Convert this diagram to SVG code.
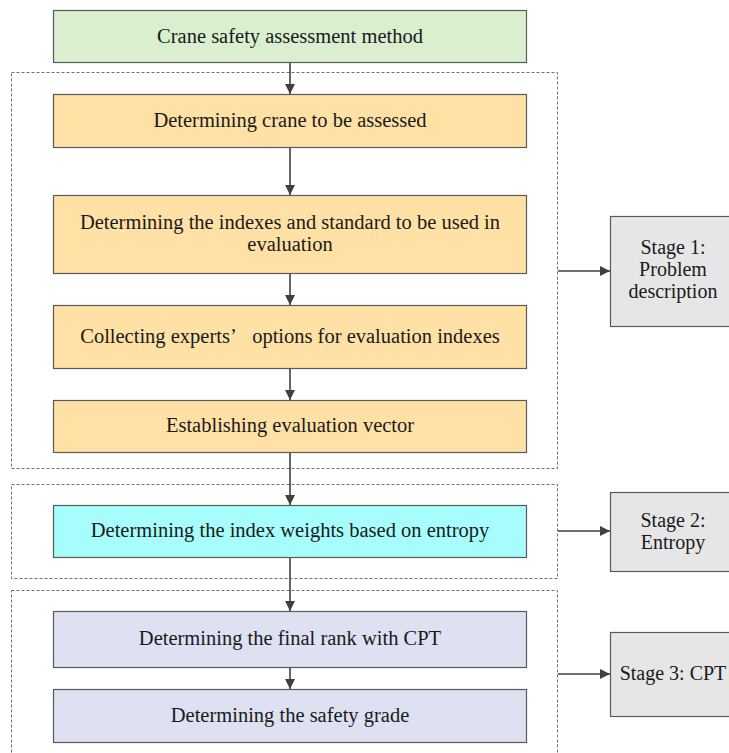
<svg xmlns="http://www.w3.org/2000/svg" width="729" height="753" viewBox="0 0 729 753">
<style>
.box{stroke:#5a5a5a;stroke-width:1.2}
.dash{fill:none;stroke:#707070;stroke-width:1;stroke-dasharray:3,2}
.t{font-family:"Liberation Serif","Times New Roman",serif;font-size:20.5px;fill:#1a1a1a;text-anchor:middle}
.s{font-family:"Liberation Serif","Times New Roman",serif;font-size:20px;fill:#1a1a1a;text-anchor:middle}
.c{stroke:#404040;stroke-width:1.6;fill:none;marker-end:url(#ah)}
</style>
<defs>
<marker id="ah" viewBox="0 0 10 10" refX="10" refY="5" markerWidth="10" markerHeight="10" markerUnits="userSpaceOnUse" orient="auto">
<path d="M0,0 L10,5 L0,10 z" fill="#404040"/>
</marker>
</defs>
<rect width="729" height="753" fill="#fff"/>
<g id="stage1-frame"><rect class="dash" x="11.5" y="72.5" width="546" height="396"/></g>
<g id="stage2-frame"><rect class="dash" x="11.5" y="484.5" width="546" height="94"/></g>
<g id="stage3-frame"><rect class="dash" x="11.5" y="590.5" width="546" height="170"/></g>

<g id="n-method"><rect class="box" x="53.5" y="10.5" width="473" height="52" fill="#d9efcf"/><text class="t" x="290" y="43">Crane safety assessment method</text></g>
<g id="n-crane"><rect class="box" x="53.5" y="94.5" width="473" height="53" fill="#ffe1a6"/><text class="t" x="290" y="127">Determining crane to be assessed</text></g>
<g id="n-indexes"><rect class="box" x="53.5" y="195.5" width="473" height="78" fill="#ffe1a6"/><text class="t" x="290" y="229">Determining the indexes and standard to be used in</text><text class="t" x="290" y="251">evaluation</text></g>
<g id="n-collect"><rect class="box" x="53.5" y="305.5" width="473" height="63" fill="#ffe1a6"/><text class="t" x="290" y="343">Collecting experts’&#160;&#160;&#160;options for evaluation indexes</text></g>
<g id="n-vector"><rect class="box" x="53.5" y="400.5" width="473" height="52" fill="#ffe1a6"/><text class="t" x="290" y="432">Establishing evaluation vector</text></g>
<g id="n-entropy"><rect class="box" x="53.5" y="505.5" width="473" height="52" fill="#a6fdfc"/><text class="t" x="290" y="537">Determining the index weights based on entropy</text></g>
<g id="n-rank"><rect class="box" x="53.5" y="611.5" width="473" height="56" fill="#dde1f1"/><text class="t" x="290" y="645">Determining the final rank with CPT</text></g>
<g id="n-grade"><rect class="box" x="53.5" y="689.5" width="473" height="53" fill="#dde1f1"/><text class="t" x="290" y="722">Determining the safety grade</text></g>

<g id="n-stage1"><rect class="box" x="610.5" y="216.5" width="126" height="110" fill="#e6e6e6"/><text class="s" x="673" y="254">Stage 1:</text><text class="s" x="673" y="276">Problem</text><text class="s" x="673" y="298">description</text></g>
<g id="n-stage2"><rect class="box" x="610.5" y="492.5" width="126" height="79" fill="#e6e6e6"/><text class="s" x="673" y="527">Stage 2:</text><text class="s" x="673" y="549">Entropy</text></g>
<g id="n-stage3"><rect class="box" x="610.5" y="632.5" width="126" height="84" fill="#e6e6e6"/><text class="s" x="673" y="680">Stage 3: CPT</text></g>

<g id="connectors">
<path class="c" d="M290,63 V94"/>
<path class="c" d="M290,148 V195"/>
<path class="c" d="M290,274 V305"/>
<path class="c" d="M290,369 V400"/>
<path class="c" d="M290,453 V505"/>
<path class="c" d="M290,558 V611"/>
<path class="c" d="M290,668 V689"/>
<path class="c" d="M558,271 H610"/>
<path class="c" d="M558,531 H610"/>
<path class="c" d="M558,674 H610"/>
</g>
</svg>
